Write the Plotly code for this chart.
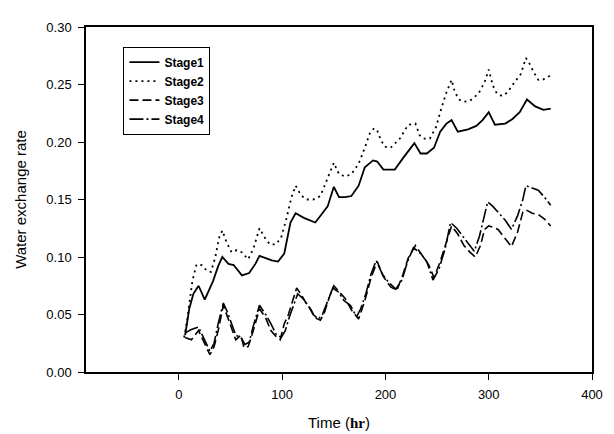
import plotly.graph_objects as go

# Stage 1 (solid)
t1 = [6, 10, 14, 19, 25, 33, 38, 42, 48, 53, 61, 68, 74, 78, 84, 90, 96, 102, 108, 113,
      121, 132, 138, 144, 150, 155, 161, 167, 174, 180, 188, 192, 198, 209, 217, 228, 234, 240, 247, 253,
      259, 264, 270, 280, 288, 294, 300, 306, 316, 323, 330, 337, 345, 353, 360]
v1 = [0.032, 0.055, 0.068, 0.075, 0.063, 0.079, 0.092, 0.100, 0.094, 0.093,
      0.084, 0.086, 0.094, 0.101, 0.099, 0.097, 0.096, 0.103, 0.130, 0.138,
      0.134, 0.130, 0.137, 0.144, 0.161, 0.152, 0.152, 0.153, 0.162, 0.178,
      0.184, 0.183, 0.176, 0.176, 0.186, 0.199, 0.190, 0.190, 0.195, 0.209,
      0.216, 0.219, 0.209, 0.211, 0.214, 0.219, 0.226, 0.215, 0.216, 0.220,
      0.226, 0.237, 0.231, 0.228, 0.229]

# Stage 2 (dotted)
t2 = [5, 8, 10, 13, 17, 22, 27, 31, 35, 39, 42, 46, 51, 56, 61, 67, 72, 75, 78, 83,
      88, 94, 99, 104, 109, 113, 118, 123, 130, 137, 143, 150, 155, 161, 167, 174, 180, 185, 189, 192,
      195, 199, 205, 214, 222, 229, 233, 237, 243, 249, 254, 259, 264, 267, 271, 276, 282, 290, 296, 300,
      304, 308, 313, 318, 325, 331, 336, 339, 344, 348, 352, 360]
v2 = [0.030, 0.045, 0.059, 0.079, 0.0935, 0.093, 0.088, 0.087, 0.099, 0.117,
      0.123, 0.113, 0.104, 0.106, 0.104, 0.098, 0.107, 0.117, 0.125, 0.117,
      0.111, 0.111, 0.117, 0.133, 0.152, 0.162, 0.154, 0.150, 0.150, 0.153,
      0.167, 0.182, 0.172, 0.170, 0.172, 0.181, 0.195, 0.208, 0.212, 0.210,
      0.203, 0.196, 0.195, 0.203, 0.215, 0.216, 0.206, 0.203, 0.203, 0.213,
      0.229, 0.243, 0.254, 0.244, 0.237, 0.235, 0.236, 0.242, 0.252, 0.263,
      0.249, 0.242, 0.240, 0.243, 0.252, 0.259, 0.273, 0.269, 0.260, 0.254,
      0.254, 0.258]

# Stage 3 (dashed)
t3 = [6, 12, 19, 24, 30, 34, 38, 43, 47, 51, 55, 60, 63, 67, 72, 78, 84, 89, 94, 98,
      102, 106, 110, 114, 118, 123, 128, 132, 137, 141, 146, 150, 155, 161, 167, 174, 180, 186, 192, 198,
      205, 211, 217, 222, 229, 235, 242, 247, 253, 259, 264, 270, 276, 282, 287, 292, 296, 300, 304, 309,
      316, 322, 328, 333, 336, 342, 348, 354, 360]
v3 = [0.030, 0.028, 0.036, 0.027, 0.015, 0.022, 0.036, 0.058, 0.048, 0.038,
      0.028, 0.032, 0.021, 0.022, 0.036, 0.055, 0.047, 0.036, 0.031, 0.028,
      0.042, 0.050, 0.062, 0.073, 0.068, 0.060, 0.054, 0.047, 0.045, 0.052,
      0.066, 0.075, 0.070, 0.064, 0.054, 0.046, 0.062, 0.082, 0.096, 0.083,
      0.074, 0.071, 0.085, 0.099, 0.110, 0.102, 0.093, 0.082, 0.096, 0.113,
      0.127, 0.120, 0.110, 0.104, 0.100, 0.110, 0.124, 0.127, 0.126, 0.124,
      0.116, 0.109, 0.122, 0.139, 0.141, 0.138, 0.137, 0.133, 0.127]

# Stage 4 (dash-dot)
t4 = [6, 12, 19, 24, 30, 34, 38, 43, 47, 51, 55, 60, 64, 68, 72, 78, 84, 89, 94, 99,
      103, 107, 111, 115, 120, 125, 130, 135, 139, 144, 149, 154, 160, 166, 172, 176, 181, 186, 191, 197,
      203, 210, 216, 221, 227, 233, 240, 246, 252, 258, 263, 269, 275, 281, 286, 291, 296, 299, 304, 310,
      316, 322, 328, 333, 336, 342, 348, 354, 360]
v4 = [0.034, 0.037, 0.039, 0.030, 0.018, 0.025, 0.042, 0.060, 0.052, 0.042,
      0.032, 0.030, 0.024, 0.026, 0.040, 0.058, 0.050, 0.042, 0.033, 0.030,
      0.036, 0.048, 0.058, 0.068, 0.064, 0.058, 0.050, 0.046, 0.050, 0.062,
      0.073, 0.070, 0.062, 0.058, 0.048, 0.055, 0.068, 0.085, 0.097, 0.085,
      0.078, 0.072, 0.080, 0.095, 0.108, 0.104, 0.096, 0.080, 0.090, 0.108,
      0.130, 0.125, 0.118, 0.110, 0.105, 0.118, 0.138, 0.148, 0.144, 0.138,
      0.132, 0.124, 0.136, 0.150, 0.162, 0.160, 0.158, 0.152, 0.145]

names = ["Stage1", "Stage2", "Stage3", "Stage4"]
x_ticks = [0, 100, 200, 300, 400]
y_ticks = [0.00, 0.05, 0.10, 0.15, 0.20, 0.25, 0.30]

series = [(t1, v1, "solid", 1.8), (t2, v2, "2px,4px", 1.8),
          (t3, v3, "9px,4px", 1.6), (t4, v4, "14px,3px,2px,3px", 1.6)]

fig = go.Figure()
for (t, v, dash, w), name in zip(series, names):
    fig.add_trace(go.Scatter(x=t, y=v, mode="lines", name=name,
                             line=dict(color="black", width=w, dash=dash)))

axis_common = dict(showline=True, linecolor="black", linewidth=1.5, mirror=True,
                   ticks="outside", ticklen=6, tickcolor="black", showgrid=False,
                   zeroline=False, ticklabelstandoff=4,
                   tickfont=dict(family="Liberation Sans", size=13, color="black"))

fig.update_layout(
    width=614, height=434,
    margin=dict(l=76, r=30, t=13, b=70),
    plot_bgcolor="white", paper_bgcolor="white",
    font=dict(family="Liberation Sans", color="black"),
    xaxis=dict(range=[-90, 400], tickvals=x_ticks, ticktext=[str(v) for v in x_ticks],
               title=dict(text="Time (<b><span style='font-family:Liberation Serif'>hr</span></b>)",
                          font=dict(size=15), standoff=16),
               **axis_common),
    yaxis=dict(range=[0, 0.30], tickvals=y_ticks, tickformat=".2f",
               title=dict(text="Water exchange rate", font=dict(size=15), standoff=16),
               **axis_common),
    legend=dict(x=0.074, y=0.943, xanchor="left", yanchor="top",
                bordercolor="black", borderwidth=1, bgcolor="white",
                font=dict(family="Liberation Sans", size=12, color="black", weight="bold"),
                tracegroupgap=0, itemwidth=30),
    showlegend=True,
)

fig.write_html("out.html")
